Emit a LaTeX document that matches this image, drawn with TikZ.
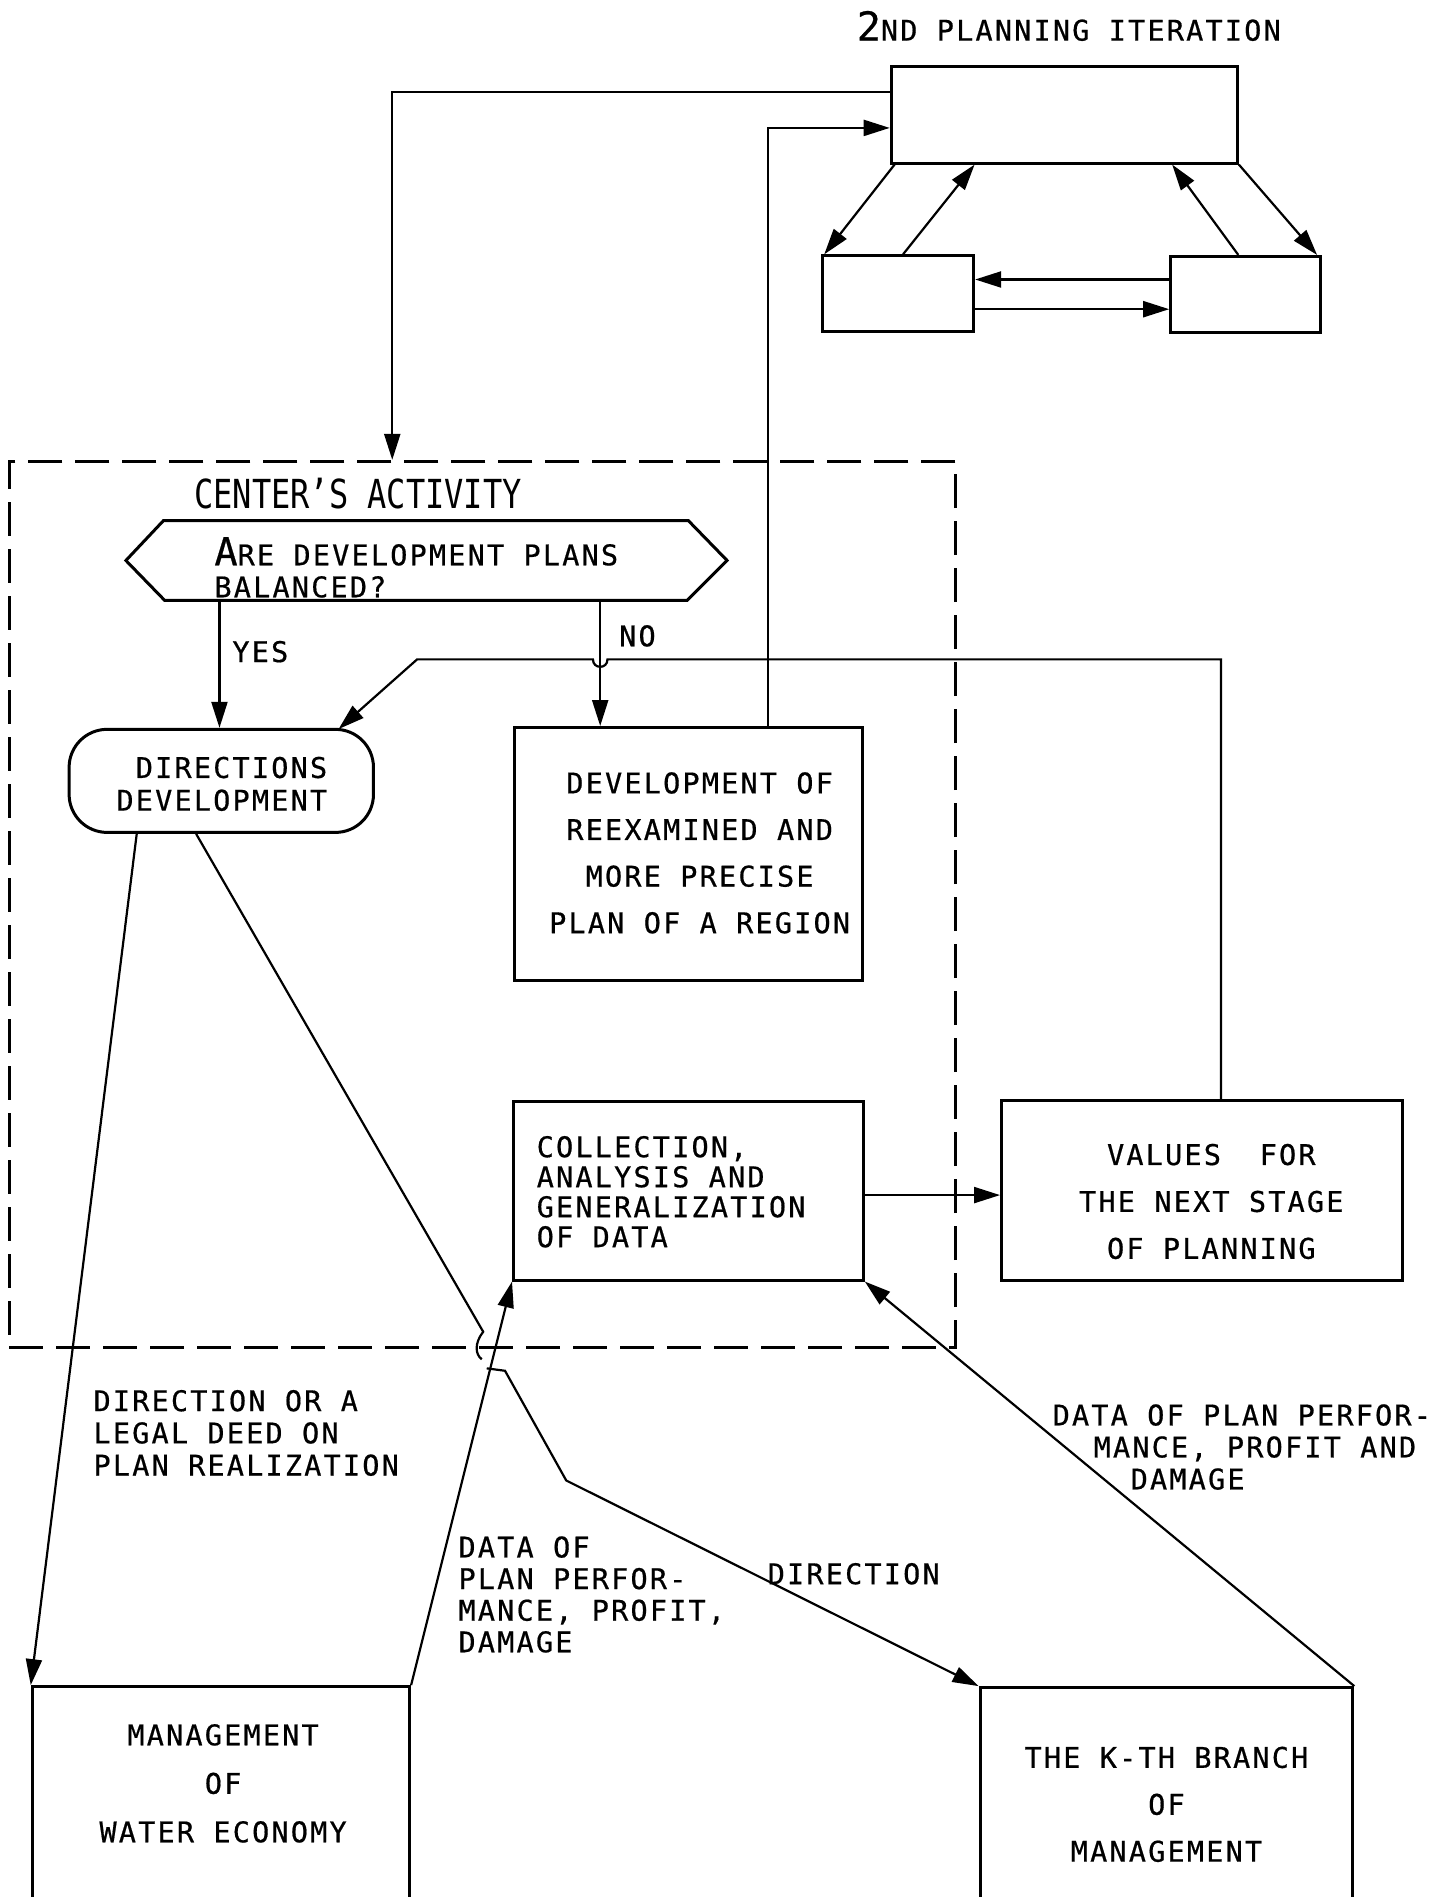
\documentclass[tikz,border=0pt]{standalone}
\usepackage{fontspec}
\usetikzlibrary{arrows.meta,fit,calc}
\newfontfamily\monof[LetterSpace=7.7,FakeBold=0.6]{DejaVu Sans Mono}
\newfontfamily\condf[FakeStretch=0.8]{DejaVu Sans Mono}
\newcommand\txtf[1]{\monof\fontsize{28.5pt}{#1pt}\selectfont}
\begin{document}
\begin{tikzpicture}[x=1.2125pt,y=-1.2125pt,
  box/.style={draw, line width=3pt, inner sep=0pt},
  conn/.style={line width=2.2pt},
  arr/.style={conn, -{Triangle[length=26pt,width=16pt]}},
  lbl/.style={inner sep=0pt}]
\useasboundingbox (0,0) rectangle (1190.1,1564.5);

% title and top cluster
\node[lbl, anchor=base west, font=\txtf{30}] (title) at (706.5,33.5) {{\fontsize{40pt}{40pt}\selectfont 2}ND PLANNING ITERATION};
\node[box, fit={(735,54.5) (1020.5,134.5)}] (T) {};
\node[box, fit={(678,211) (803,273)}] (L) {};
\node[box, fit={(965.5,211.5) (1089,274)}] (R) {};

% dashed frame
\node[box, dash pattern=on 34pt off 13pt, fit={(7.5,380.5) (788,1111.6)}] (Z) {};
\node[lbl, anchor=base west, font=\condf\fontsize{40pt}{40pt}\selectfont] (ca) at (160,419) {CENTER’S ACTIVITY};

% decision hexagon
\node[inner sep=0pt, fit={(104,429.5) (599.5,495)}] (H) {};
\draw[line width=3pt, line join=miter] (H.west) -- ($(H.north west)+(31,0)$) -- ($(H.north east)+(-32,0)$) -- (H.east) -- ($(H.south east)+(-33,0)$) -- ($(H.south west)+(32,0)$) -- cycle;
\node[lbl, anchor=base west, font=\txtf{30}] (h1) at (176.7,466.2) {{\fontsize{38.5pt}{38.5pt}\selectfont A}RE DEVELOPMENT PLANS};
\node[lbl, anchor=base west, font=\txtf{30}] (h2) at (176.7,492.6) {BALANCED?};

% boxes
\node[box, rounded corners=38pt, fit={(57,601.5) (308,686.5)}] (D) {};
\node[lbl, anchor=east, align=right, font=\txtf{32.7}] (dt) at (270,646.5) {DIRECTIONS\\DEVELOPMENT};
\node[box, fit={(424,600) (711,809)}] (P) {};
\node[lbl, align=center, font=\txtf{46.6}] (pt) at (577,703.4) {DEVELOPMENT OF\\REEXAMINED AND\\MORE PRECISE\\PLAN OF A REGION};
\node[box, fit={(423.5,908.5) (712,1055.7)}] (C) {};
\node[lbl, anchor=west, align=left, font=\txtf{30}] (ct) at (442.5,982.9) {COLLECTION,\\ANALYSIS AND\\GENERALIZATION\\OF DATA};
\node[box, fit={(826,907.5) (1157,1056.3)}] (V) {};
\node[lbl, align=center, font=\txtf{46.9}] (vt) at (999,990.9) {VALUES\ \ FOR\\THE NEXT STAGE\\OF PLANNING};
\node[box, fit={(26.6,1391) (337.8,1620)}] (M) {};
\node[lbl, align=center, font=\txtf{48.5}] (mt) at (184,1470.8) {MANAGEMENT\\OF\\WATER ECONOMY};
\node[box, fit={(808.3,1391.8) (1115.7,1620)}] (K) {};
\node[lbl, align=center, font=\txtf{46.9}] (kt) at (962,1488.1) {THE K-TH BRANCH\\OF\\MANAGEMENT};

% labels
\node[lbl, anchor=base west, font=\txtf{30}] (yes) at (191.5,546) {YES};
\node[lbl, anchor=base west, font=\txtf{30}] (no) at (510.5,533) {NO};
\node[lbl, anchor=west, align=left, font=\txtf{32.2}] (ldir) at (77,1181.8) {DIRECTION OR A\\LEGAL DEED ON\\PLAN REALIZATION};
\node[lbl, anchor=west, align=left, font=\txtf{31.6}] (ldat) at (378,1315) {DATA OF\\PLAN PERFOR-\\MANCE, PROFIT,\\DAMAGE};
\node[lbl, anchor=base west, font=\txtf{30}] (ldn) at (633,1306.5) {DIRECTION};
\node[lbl, anchor=west, align=left, font=\txtf{32}] (lr) at (868,1193.4) {DATA OF PLAN PERFOR-\\\hspace*{41pt}MANCE, PROFIT AND\\\hspace*{78pt}DAMAGE};

% top cluster connectors
\draw[arr] ($(T.south west)+(4,0)$) -- ($(L.north west)+(3,0)$);
\draw[arr] ($(L.north west)+(68,0)$) -- ($(T.south west)+(70,0)$);
\draw[arr] ($(R.north west)+(57,0)$) -- ($(T.south east)+(-55,0)$);
\draw[arr] (T.south east) -- ($(R.north east)+(-4,0)$);
\draw[arr] (R.west |- 0,230.5) -- (L.east |- 0,230.5);
\draw[arr] (L.east |- 0,255) -- (R.west |- 0,255);

% long connectors
\draw[arr] (T.west |- 0,76) -- (323.5,76) -- (Z.north -| 323.5,0);
\draw[arr] (P.north -| 633.5,0) -- (633.5,105.5) -- (T.west |- 0,105.5);
\draw[arr] (H.south -| 181,0) -- (D.north -| 181,0);
\draw[arr] (H.south -| 495,0) -- (P.north -| 495,0);
\draw[arr] (V.north -| 1007,0) -- (1007,543.8) -- (501,543.8) .. controls (501,552) and (489,552) .. (489,543.8) -- (344,543.8) -- ($(D.north east)+(-30,1)$);
\draw[arr] (C.east |- 0,985.6) -- (V.west |- 0,985.6);
\draw[arr] ($(D.south west)+(57,0)$) -- (M.north west);
\draw[arr] ($(D.south west)+(106,0)$) -- (398.5,1098.3) .. controls (391,1108) and (392,1117) .. (397.3,1121) (401.4,1128.5) -- (416.5,1130.5) -- (467,1221) -- (K.north west);
\draw[arr] (M.north east) -- (C.south west);
\draw[arr] (K.north east) -- (C.south east);
\end{tikzpicture}
\end{document}
